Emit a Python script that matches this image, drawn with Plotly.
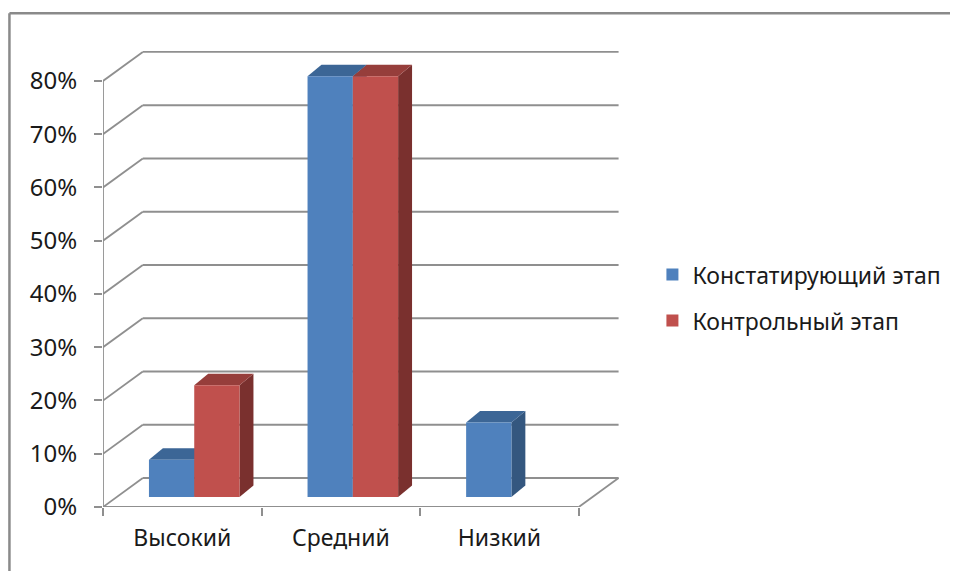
import plotly.graph_objects as go

categories = ["Высокий", "Средний", "Низкий"]
series_names = ["Констатирующий этап", "Контрольный этап"]
konstat = [7, 79, 14]
kontrol = [21, 79, 0]
y_ticks = [0, 10, 20, 30, 40, 50, 60, 70, 80]
y_ticklabels = [f"{t}%" for t in y_ticks]

front_colors = ["#4F81BD", "#C0504D"]
top_colors = ["#3C6696", "#963E3B"]
side_colors = ["#34577F", "#7A302E"]

# page body has an 8px margin; work in window pixels and shift
OFF = 8
W, H = 958 - OFF, 571 - OFF
L, BOT = 103 - OFF, 507 - OFF      # pixel of x=0 front, y=0 front (figure coords)
SX = (581 - 103) / 3.0             # px per category unit
SY = (507 - 80.7) / 80.0           # px per percent
XMAX, YMAX = 3.26, 86.0
R = W - L - XMAX * SX
T = BOT - YMAX * SY
B = H - BOT

wall_dx, wall_dy = 40 / SX, 29 / SY
bar_dx, bar_dy = 14 / SX, 11.5 / SY
bar_w = 45.5 / SX
bar_base = 10 / SY
shift = 12 / SX

fig = go.Figure()
grid_col = "#8F8F8F"
shapes = []
for k in y_ticks:
    shapes.append(dict(type="line", xref="x", yref="y", x0=0, y0=k, x1=wall_dx, y1=k + wall_dy,
                       line=dict(color=grid_col, width=1.8), layer="below"))
    shapes.append(dict(type="line", xref="x", yref="y", x0=wall_dx, y0=k + wall_dy, x1=3 + wall_dx, y1=k + wall_dy,
                       line=dict(color=grid_col, width=1.8), layer="below"))
shapes.append(dict(type="line", xref="x", yref="y", x0=0, y0=0, x1=3, y1=0, line=dict(color=grid_col, width=1.8), layer="below"))
shapes.append(dict(type="line", xref="x", yref="y", x0=3, y0=0, x1=3 + wall_dx, y1=wall_dy, line=dict(color=grid_col, width=1.8), layer="below"))
shapes.append(dict(type="line", xref="x", yref="y", x0=0, y0=0, x1=0, y1=80, line=dict(color=grid_col, width=1.8), layer="below"))

# window pixel -> paper coords
def px_x(p):
    return (p - OFF - L) / (XMAX * SX)

def px_y(p):
    return (BOT - (p - OFF)) / (YMAX * SY)

shapes.append(dict(type="line", xref="paper", yref="paper", x0=px_x(9), y0=px_y(13), x1=px_x(9), y1=px_y(580),
                   line=dict(color="#8A8A8A", width=2.5)))
shapes.append(dict(type="line", xref="paper", yref="paper", x0=px_x(9), y0=px_y(13), x1=px_x(970), y1=px_y(13),
                   line=dict(color="#8A8A8A", width=2.5)))

def poly(xs, ys, color):
    fig.add_trace(go.Scatter(x=xs + [xs[0]], y=ys + [ys[0]], fill="toself", fillcolor=color,
                             mode="lines", line=dict(width=0, color=color), showlegend=False,
                             hoverinfo="skip"))

for i, cat in enumerate(categories):
    xc = i + 0.5 + shift
    for s, vals in enumerate([konstat, kontrol]):
        v = vals[i]
        if v <= 0:
            continue
        x0 = xc - bar_w if s == 0 else xc
        x1 = x0 + bar_w
        y0 = bar_base
        top = bar_base + v
        poly([x1, x1, x1 + bar_dx, x1 + bar_dx], [y0, top, top + bar_dy, y0 + bar_dy], side_colors[s])
        poly([x0, x1, x1 + bar_dx, x0 + bar_dx], [top, top, top + bar_dy, top + bar_dy], top_colors[s])
        poly([x0, x1, x1, x0], [y0, y0, top, top], front_colors[s])

fig.add_trace(go.Scatter(x=[None], y=[None], mode="markers", name=series_names[0],
                         marker=dict(symbol="square", size=12, color=front_colors[0]), legend="legend"))
fig.add_trace(go.Scatter(x=[None], y=[None], mode="markers", name=series_names[1],
                         marker=dict(symbol="square", size=12, color=front_colors[1]), legend="legend2"))

font_family = "Noto Sans"
fs = 23
fig.update_layout(
    width=W, height=H,
    margin=dict(l=L, r=R, t=T, b=B, pad=0),
    paper_bgcolor="white", plot_bgcolor="white",
    shapes=shapes,
    font=dict(family=font_family, size=fs, color="#1a1a1a"),
    xaxis=dict(range=[0, XMAX], showgrid=False, zeroline=False, showline=False,
               tickmode="array", tickvals=[0.5, 1.5, 2.5], ticktext=categories, ticks="",
               ticklabelstandoff=15, tickfont=dict(size=23),
               minor=dict(tickmode="array", tickvals=[0, 1, 2, 3], ticks="outside", ticklen=8,
                          tickcolor=grid_col, tickwidth=1.8, showgrid=False),
               fixedrange=True),
    yaxis=dict(range=[0, YMAX], showgrid=False, zeroline=False, showline=False,
               tickmode="array", tickvals=y_ticks, ticktext=y_ticklabels,
               ticks="outside", ticklen=8, tickcolor=grid_col, tickwidth=1.8,
               ticklabelstandoff=12, tickfont=dict(size=24), fixedrange=True),
    legend=dict(x=px_x(655), y=px_y(253), xanchor="left", yanchor="top", bgcolor="rgba(0,0,0,0)",
                font=dict(family=font_family, size=fs), itemwidth=30),
    legend2=dict(x=px_x(655), y=px_y(299), xanchor="left", yanchor="top", bgcolor="rgba(0,0,0,0)",
                 font=dict(family=font_family, size=fs), itemwidth=30),
)

fig.write_html("out.html")
